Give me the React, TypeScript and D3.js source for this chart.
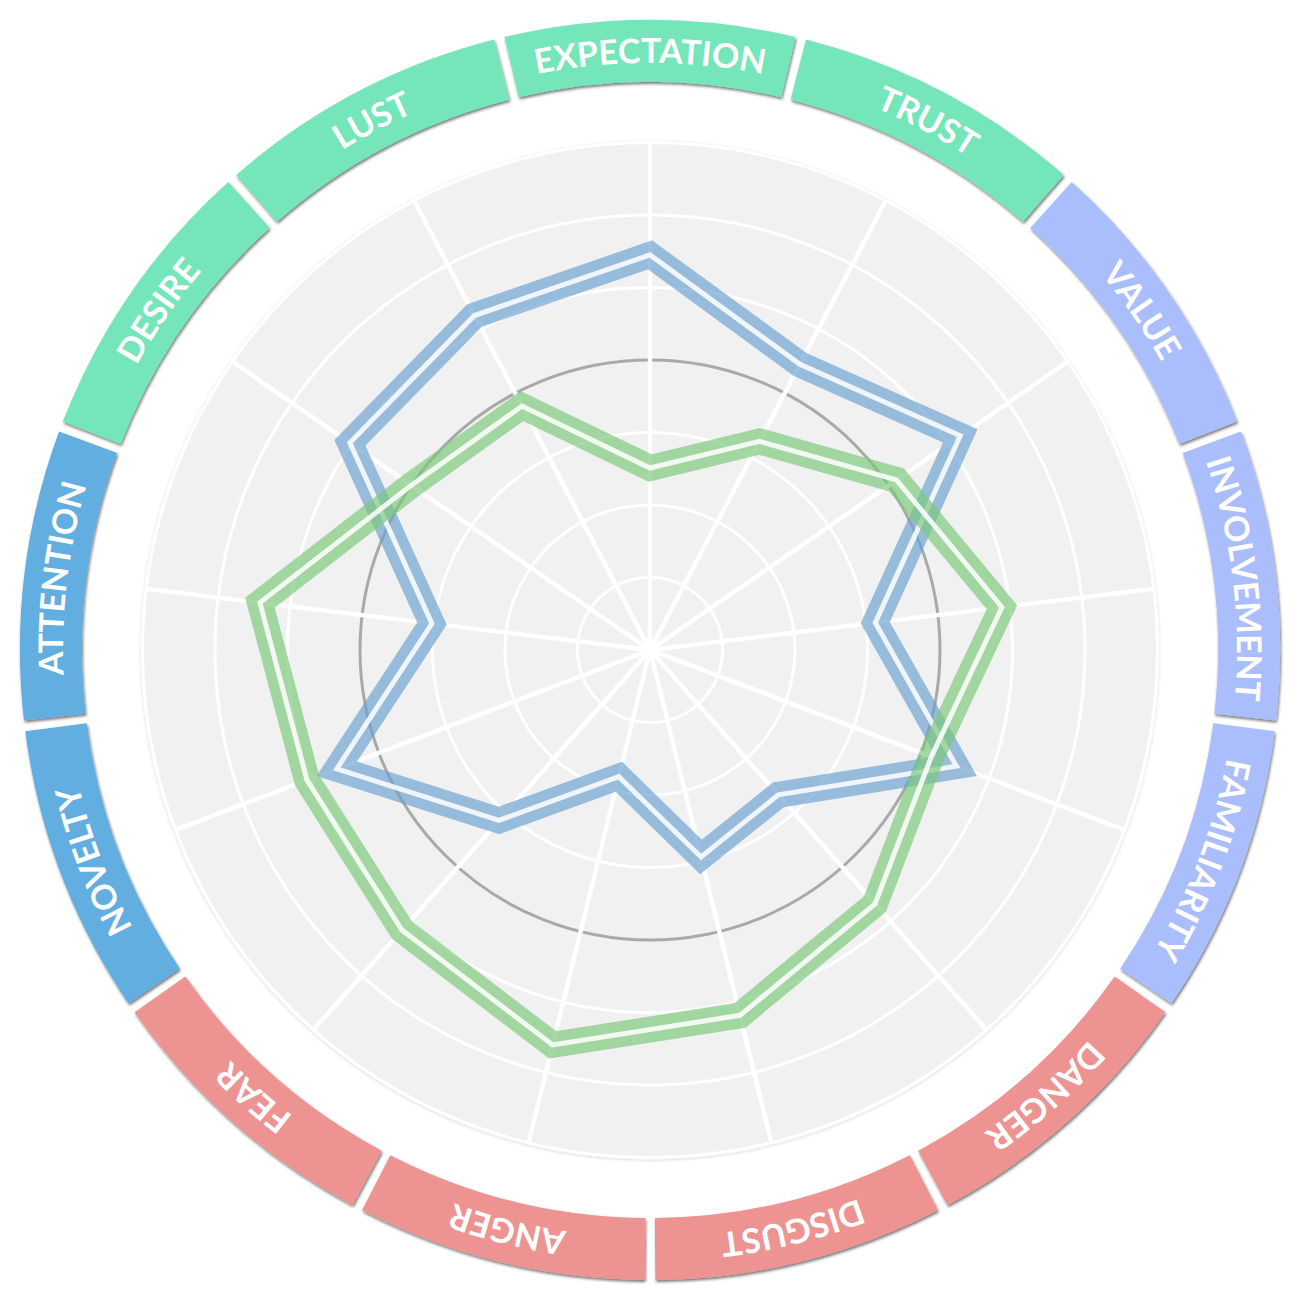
import React from "react";
import * as d3 from "d3";

const axes = ["EXPECTATION", "TRUST", "VALUE", "INVOLVEMENT", "FAMILIARITY", "DANGER", "DISGUST", "ANGER", "FEAR", "NOVELTY", "ATTENTION", "DESIRE", "LUST"];
const axisGroups = ["g", "g", "v", "v", "v", "r", "r", "r", "r", "b", "b", "g", "g"];
const groupColors: Record<string, string> = { g: "#75e6ba", v: "#aabdfd", r: "#ed9492", b: "#62aee0" };
const seriesBlue = [5.45, 4.45, 5.2, 3.13, 4.52, 2.67, 2.94, 1.8, 3.14, 4.62, 3.03, 5.03, 5.21];
const seriesGreen = [2.51, 3.25, 4.13, 4.89, 4.15, 4.68, 5.19, 5.61, 5.16, 5.06, 5.42, 4.0, 3.8];
const levels = [1, 2, 3, 4, 5, 6, 7];
const refLevel = 4;

const W = 1300, H = 1300, CX = 650, CY = 650;
const R = 507.5;
const ringInner = 568, ringOuter = 630, textRadius = 587;

export default function App() {
  const n = axes.length;
  const step = (2 * Math.PI) / n;
  const r = d3.scaleLinear().domain([0, 7]).range([0, R]);
  const pt = (a: number, rad: number) => [rad * Math.sin(a), -rad * Math.cos(a)];

  const arcGen = d3.arc<any>().innerRadius(ringInner).outerRadius(ringOuter);
  const pad = 0.017;

  const line = d3.lineRadial<number>()
    .angle((_, i) => i * step)
    .radius((d) => r(d))
    .curve(d3.curveLinearClosed);

  const series = [
    { vals: seriesBlue, color: "#6aa0d0" },
    { vals: seriesGreen, color: "#7cc87a" },
  ];

  return (
    <svg width={W} height={H} style={{ position: "absolute", left: 0, top: 0, background: "#fff" }}>
      <defs>
        <filter id="segShadow" x="-10%" y="-10%" width="120%" height="120%">
          <feDropShadow dx="1" dy="2" stdDeviation="1.5" floodColor="#000" floodOpacity="0.55" />
        </filter>
        <filter id="discShadow" x="-5%" y="-5%" width="110%" height="110%">
          <feDropShadow dx="0" dy="1" stdDeviation="1.5" floodColor="#000" floodOpacity="0.15" />
        </filter>
        {axes.map((_, i) => {
          const a0 = i * step - step / 2;
          const a1 = i * step + step / 2;
          const p0 = pt(a0, textRadius), p1 = pt(a1, textRadius);
          return (
            <path key={i} id={`lab${i}`} d={`M${p0[0]},${p0[1]} A${textRadius},${textRadius} 0 0 1 ${p1[0]},${p1[1]}`} />
          );
        })}
      </defs>
      <g transform={`translate(${CX},${CY})`}>
        <circle r={R + 2} fill="#f1f1f1" filter="url(#discShadow)" />
        {levels.map((l) => (
          <circle key={l} r={r(l)} fill="none" stroke={l === refLevel ? "#a9a9a9" : "#ffffff"} strokeWidth={3} />
        ))}
        {axes.map((_, i) => {
          const p = pt(i * step, r(7));
          return <line key={i} x1={0} y1={0} x2={p[0]} y2={p[1]} stroke="#fff" strokeWidth={4.5} />;
        })}
        {series.map((s, k) => (
          <g key={k}>
            <path d={line(s.vals) || ""} fill="none" stroke={s.color} strokeOpacity={0.68} strokeWidth={26} strokeLinejoin="miter" />
            <path d={line(s.vals) || ""} fill="none" stroke="#fff" strokeOpacity={0.85} strokeWidth={5} strokeLinejoin="miter" />
          </g>
        ))}
        {axes.map((name, i) => (
          <path
            key={name}
            d={arcGen({ startAngle: i * step - step / 2 + pad / 2, endAngle: i * step + step / 2 - pad / 2 }) || ""}
            fill={groupColors[axisGroups[i]]}
            filter="url(#segShadow)"
          />
        ))}
        {axes.map((name, i) => (
          <text key={name} fill="#fff" fontFamily="Lato, 'Open Sans', sans-serif" fontSize={34} fontWeight={700}>
            <textPath href={`#lab${i}`} startOffset="50%" textAnchor="middle">{name}</textPath>
          </text>
        ))}
      </g>
    </svg>
  );
}
